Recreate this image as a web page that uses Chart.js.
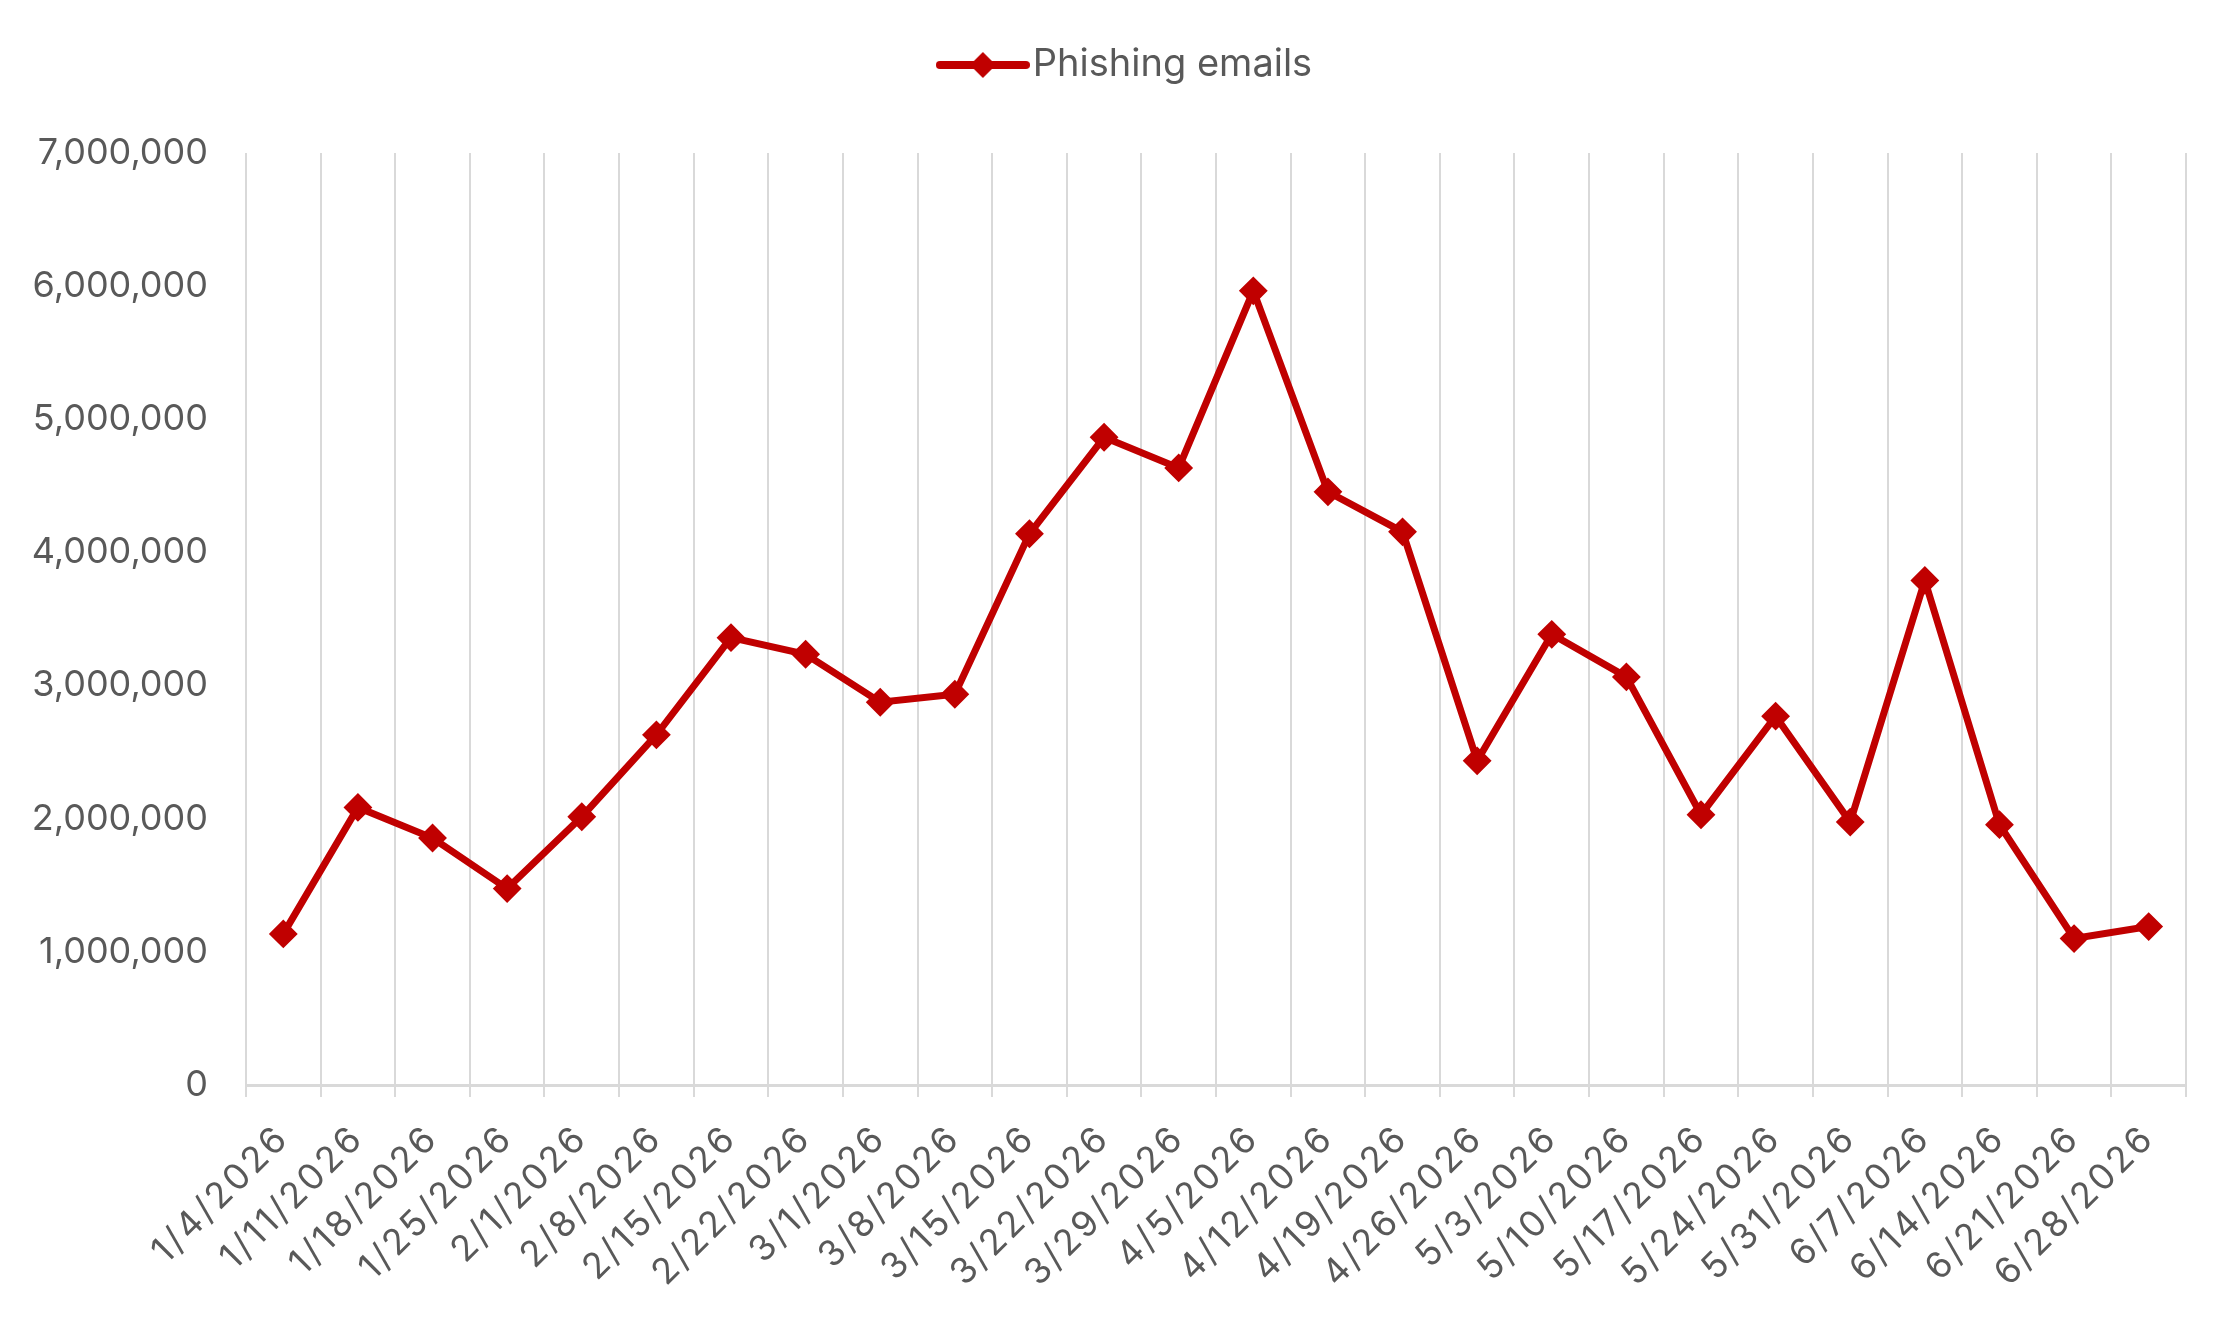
<!DOCTYPE html>
<html>
<head>
<meta charset="utf-8">
<title>Phishing emails</title>
<script src="https://cdn.jsdelivr.net/npm/chart.js@4.4.1/dist/chart.umd.min.js"></script>
<style>
    html, body { margin: 0; padding: 0; background: #ffffff; }
    #wrap { width: 2238px; height: 1319px; position: relative; }
</style>
</head>
<body>
<div id="wrap"><canvas id="phishing"></canvas></div>
<script>
const weeks = [
    '1/4/2026', '1/11/2026', '1/18/2026', '1/25/2026', '2/1/2026', '2/8/2026',
    '2/15/2026', '2/22/2026', '3/1/2026', '3/8/2026', '3/15/2026', '3/22/2026',
    '3/29/2026', '4/5/2026', '4/12/2026', '4/19/2026', '4/26/2026', '5/3/2026',
    '5/10/2026', '5/17/2026', '5/24/2026', '5/31/2026', '6/7/2026', '6/14/2026',
    '6/21/2026', '6/28/2026'
];
const phishingEmails = [
    1135000, 2085000, 1855000, 1475000, 2015000, 2630000,
    3360000, 3235000, 2875000, 2935000, 4140000, 4865000,
    4635000, 5965000, 4455000, 4155000, 2435000, 3385000,
    3065000, 2030000, 2770000, 1975000, 3790000, 1955000,
    1100000, 1190000
];
const yTicks = [0, 1000000, 2000000, 3000000, 4000000, 5000000, 6000000, 7000000];

const red = '#C00000';
const textGrey = '#595959';
const gridGrey = '#D9D9D9';
const font = {family: 'Inter, "Open Sans", sans-serif', size: 36};
const legendFont = {family: 'Inter, "Open Sans", sans-serif', size: 38};

// legend marker: a short line with a diamond on it
function makeLegendIcon() {
    const c = document.createElement('canvas');
    c.width = 94;
    c.height = 30;
    const g = c.getContext('2d');
    g.strokeStyle = red;
    g.lineWidth = 8;
    g.lineCap = 'round';
    g.beginPath();
    g.moveTo(4, 15);
    g.lineTo(90, 15);
    g.stroke();
    g.fillStyle = red;
    g.beginPath();
    g.moveTo(47, 2);
    g.lineTo(60, 15);
    g.lineTo(47, 28);
    g.lineTo(34, 15);
    g.closePath();
    g.fill();
    return c;
}

// extra room under the legend, legend nudged right, spaced-out date labels
const chartTweaks = {
    id: 'chartTweaks',
    beforeLayout(chart) {
        const legend = chart.legend;
        if (legend && !legend._gapWrapped) {
            const fit = legend.fit;
            legend.fit = function () {
                fit.call(this);
                this.height += 59;
            };
            legend._gapWrapped = true;
        }
    },
    afterLayout(chart) {
        if (chart.legend) {
            chart.legend.left += 68;
            chart.legend.width -= 68;
        }
        const x = chart.scales.x;
        if (x && !x._spaced) {
            const drawLabels = x.drawLabels;
            x.drawLabels = function (area) {
                const ctx = this.ctx;
                ctx.save();
                ctx.letterSpacing = '3px';
                drawLabels.call(this, area);
                ctx.restore();
                ctx.letterSpacing = '0px';
            };
            x._spaced = true;
        }
    }
};

new Chart(document.getElementById('phishing'), {
    type: 'line',
    data: {
        labels: weeks,
        datasets: [{
            label: 'Phishing emails',
            data: phishingEmails,
            borderColor: red,
            backgroundColor: red,
            borderWidth: 7,
            tension: 0,
            pointStyle: 'rectRot',
            pointRadius: 13,
            pointHoverRadius: 13,
            pointBorderWidth: 2,
            pointBackgroundColor: red,
            pointBorderColor: red
        }]
    },
    options: {
        responsive: true,
        maintainAspectRatio: false,
        animation: false,
        layout: {
            padding: {top: 26, left: 10, right: 52, bottom: 0}
        },
        plugins: {
            legend: {
                position: 'top',
                labels: {
                    usePointStyle: true,
                    pointStyle: makeLegendIcon(),
                    pointStyleWidth: 62,
                    padding: 20,
                    color: textGrey,
                    font: legendFont
                }
            },
            tooltip: {enabled: false}
        },
        scales: {
            x: {
                offset: true,
                grid: {
                    display: true,
                    offset: true,
                    color: gridGrey,
                    lineWidth: 2,
                    drawTicks: true,
                    tickLength: 12,
                    tickColor: gridGrey,
                    tickWidth: 2
                },
                border: {display: true, color: gridGrey, width: 3},
                ticks: {
                    autoSkip: false,
                    minRotation: 45,
                    maxRotation: 45,
                    padding: 20,
                    color: textGrey,
                    font: font
                },
                afterFit(scale) {
                    scale.height = 234;
                }
            },
            y: {
                min: 0,
                max: 7000000,
                grid: {display: false, drawTicks: false},
                border: {display: false},
                afterBuildTicks(scale) {
                    scale.ticks = yTicks.map((v) => ({value: v}));
                },
                ticks: {
                    padding: 38,
                    color: textGrey,
                    font: font,
                    callback: (value) => value.toLocaleString('en-US')
                },
                afterFit(scale) {
                    scale.width = 236;
                }
            }
        }
    },
    plugins: [chartTweaks]
});
</script>
</body>
</html>
